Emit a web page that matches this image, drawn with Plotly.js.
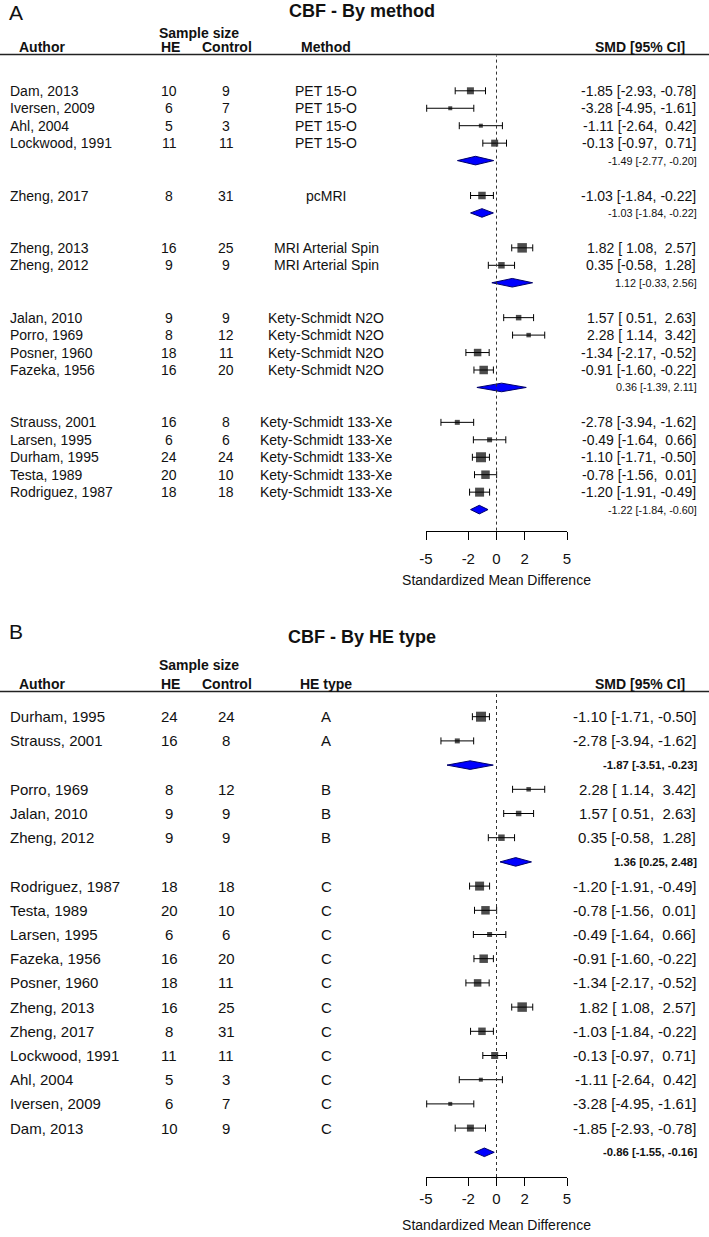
<!DOCTYPE html>
<html><head><meta charset="utf-8">
<script src="https://cdn.plot.ly/plotly-3.0.1.min.js"></script>
<style>html,body{margin:0;padding:0;background:#fff}#chart{width:709px;height:1237px}</style>
</head><body><div id="chart"></div>
<script>
// ---------------- DATA ----------------
const authors = ["Dam, 2013","Iversen, 2009","Ahl, 2004","Lockwood, 1991","Zheng, 2017","Zheng, 2013","Zheng, 2012","Jalan, 2010","Porro, 1969","Posner, 1960","Fazeka, 1956","Strauss, 2001","Larsen, 1995","Durham, 1995","Testa, 1989","Rodriguez, 1987"];
const heN   = [10, 6, 5, 11, 8, 16, 9, 9, 8, 18, 16, 16, 6, 24, 20, 18];
const ctrlN = [9, 7, 3, 11, 31, 25, 9, 9, 12, 11, 20, 8, 6, 24, 10, 18];
const method = ["PET 15-O","PET 15-O","PET 15-O","PET 15-O","pcMRI","MRI Arterial Spin","MRI Arterial Spin","Kety-Schmidt N2O","Kety-Schmidt N2O","Kety-Schmidt N2O","Kety-Schmidt N2O","Kety-Schmidt 133-Xe","Kety-Schmidt 133-Xe","Kety-Schmidt 133-Xe","Kety-Schmidt 133-Xe","Kety-Schmidt 133-Xe"];
const heType = ["C","C","C","C","C","C","B","B","B","C","C","A","C","A","C","C"];
const smd  = [-1.85, -3.28, -1.11, -0.13, -1.03, 1.82, 0.35, 1.57, 2.28, -1.34, -0.91, -2.78, -0.49, -1.10, -0.78, -1.20];
const ciLo = [-2.93, -4.95, -2.64, -0.97, -1.84, 1.08, -0.58, 0.51, 1.14, -2.17, -1.60, -3.94, -1.64, -1.71, -1.56, -1.91];
const ciHi = [-0.78, -1.61, 0.42, 0.71, -0.22, 2.57, 1.28, 2.63, 3.42, -0.52, -0.22, -1.62, 0.66, -0.50, 0.01, -0.49];

const methodGroups = ["PET 15-O","pcMRI","MRI Arterial Spin","Kety-Schmidt N2O","Kety-Schmidt 133-Xe"];
const methodEst = [-1.49, -1.03, 1.12, 0.36, -1.22];
const methodLo  = [-2.77, -1.84, -0.33, -1.39, -1.84];
const methodHi  = [-0.20, -0.22, 2.56, 2.11, -0.60];

const typeGroups = ["A","B","C"];
const typeEst = [-1.87, 1.36, -0.86];
const typeLo  = [-3.51, 0.25, -1.55];
const typeHi  = [-0.23, 2.48, -0.16];
const orderB = ["Durham, 1995","Strauss, 2001","Porro, 1969","Jalan, 2010","Zheng, 2012","Rodriguez, 1987","Testa, 1989","Larsen, 1995","Fazeka, 1956","Posner, 1960","Zheng, 2013","Zheng, 2017","Lockwood, 1991","Ahl, 2004","Iversen, 2009","Dam, 2013"];

const tickVals = [-5, -2, 0, 2, 5];
const tickText = ["-5", "-2", "0", "2", "5"];
const axisTitle = "Standardized Mean Difference";

// ---------------- STYLE / LAYOUT ----------------
const W = 709, H = 1237;
const FONT = "Liberation Sans, Arial, Helvetica, sans-serif";
const boxPx = {"Dam, 2013":7,"Iversen, 2009":4,"Ahl, 2004":4,"Lockwood, 1991":7,"Zheng, 2017":7.5,"Zheng, 2013":9.5,"Zheng, 2012":6.5,"Jalan, 2010":5.5,"Porro, 1969":4.5,"Posner, 1960":7.5,"Fazeka, 1956":8.5,"Strauss, 2001":5,"Larsen, 1995":5,"Durham, 1995":10,"Testa, 1989":8.5,"Rodriguez, 1987":9};
const X0 = 426, X5 = 567; // pixel positions of -5 and 5
const col = {author: 9, he: 169, ctrl: 226, grp: 326, smdR: 697, smdHeadR: 686, authorHead: 18, sample: 199, letter: 8, title: 362};

const NB = "\u00A0";
function pad5(v){ let s = v.toFixed(2); while (s.length < 5) s = NB + s; return s; }
function studyLabel(e,l,h){ return e.toFixed(2) + NB + "[" + pad5(l) + "," + NB + pad5(h) + "]"; }
function sumLabel(e,l,h){ return e.toFixed(2) + NB + "[" + l.toFixed(2) + "," + NB + h.toFixed(2) + "]"; }

const panels = [
  {letter:"A", title:"CBF - By method", grpHead:"Method", xa:"x", ya:"y", xk:"xaxis", yk:"yaxis",
   letterY:13, titleY:11, sampleY:33, headY:47, lineY:54.5, row0:90.8, rowH:17.45, axisY:530.6,
   txt:14, sumTxt:10.8, sumBold:false, dh:4.3, tickStand:6, titleStand:9,
   grpNames:methodGroups, grpEst:methodEst, grpLo:methodLo, grpHi:methodHi,
   members: g => authors.filter((a,i)=>method[i]===g), grpText: i => method[i], blank:true},
  {letter:"B", title:"CBF - By HE type", grpHead:"HE type", xa:"x2", ya:"y2", xk:"xaxis2", yk:"yaxis2",
   letterY:631.5, titleY:636.5, sampleY:665, headY:684, lineY:691.5, row0:716.7, rowH:24.2, axisY:1177,
   txt:15, sumTxt:11.3, sumBold:true, dh:4.3, tickStand:0, titleStand:14,
   grpNames:typeGroups, grpEst:typeEst, grpLo:typeLo, grpHi:typeHi,
   members: g => orderB.filter(a => heType[authors.indexOf(a)]===g), grpText: i => heType[i], blank:false}
];

const traces = [], annotations = [], shapes = [];
const layout = {width:W, height:H, margin:{l:0,r:0,t:0,b:0}, paper_bgcolor:"#fff", plot_bgcolor:"rgba(0,0,0,0)",
  showlegend:false, font:{family:FONT, color:"#111"}, annotations, shapes};

function py(p){ return 1 - p/H; }
function px(p){ return p/W; }
function txt(x, y, text, size, anchor, yref, bold){
  annotations.push({xref:"paper", yref:yref||"paper", x:x, y:y, text: bold ? "<b>"+text+"</b>" : text,
    showarrow:false, xanchor:anchor, yanchor:"middle", borderpad:0,
    font:{family:FONT, size:size, color:"#111"}});
}

panels.forEach(P => {
  let row = 0;
  const sx=[], sy=[], ss=[], ep=[], em=[];
  P.grpNames.forEach((g, gi) => {
    P.members(g).forEach(a => {
      const i = authors.indexOf(a);
      sx.push(smd[i]); sy.push(row); ss.push(boxPx[a]);
      ep.push(ciHi[i]-smd[i]); em.push(smd[i]-ciLo[i]);
      txt(px(col.author), row, a, P.txt, "left", P.ya);
      txt(px(col.he), row, String(heN[i]), P.txt, "center", P.ya);
      txt(px(col.ctrl), row, String(ctrlN[i]), P.txt, "center", P.ya);
      txt(px(col.grp), row, P.grpText(i), P.txt, "center", P.ya);
      txt(px(col.smdR), row, studyLabel(smd[i], ciLo[i], ciHi[i]), P.txt, "right", P.ya);
      row++;
    });
    const e = P.grpEst[gi], l = P.grpLo[gi], h = P.grpHi[gi];
    const d = P.dh / P.rowH;
    traces.push({type:"scatter", mode:"lines", xaxis:P.xa, yaxis:P.ya, hoverinfo:"skip",
      x:[l, e, h, e, l], y:[row, row-d, row, row+d, row], fill:"toself", fillcolor:"#0000FF",
      line:{color:"#00006A", width:1}, cliponaxis:false});
    txt(px(col.smdR)+0.002, row, sumLabel(e,l,h), P.sumTxt, "right", P.ya, P.sumBold);
    row++;
    if (P.blank) row++;
  });
  traces.unshift({type:"scatter", mode:"markers", xaxis:P.xa, yaxis:P.ya, x:sx, y:sy, hoverinfo:"skip",
    cliponaxis:false,
    marker:{symbol:"square", size:ss, color:"#000", line:{width:0}},
    error_x:{type:"data", symmetric:false, array:ep, arrayminus:em, color:"#000", thickness:1, width:3.5}});

  const top = (P.lineY - P.row0)/P.rowH, bot = (P.axisY - P.row0)/P.rowH;
  layout[P.yk] = {domain:[py(P.axisY), py(P.lineY)], range:[bot, top], visible:false, fixedrange:true};
  layout[P.xk] = {domain:[px(X0), px(X5)], range:[-5,5], anchor:P.ya, showgrid:false, zeroline:false,
    showline:true, linecolor:"#000", linewidth:1, ticks:"outside", ticklen:8, tickwidth:1, tickcolor:"#000",
    tickvals:tickVals, ticktext:tickText, ticklabelstandoff:P.tickStand, fixedrange:true,
    tickfont:{family:FONT, size:15, color:"#111"},
    title:{text:axisTitle, standoff:P.titleStand, font:{family:FONT, size:14, color:"#111"}}};

  shapes.push({type:"line", xref:P.xa, yref:"paper", x0:0, x1:0, y0:py(P.axisY), y1:py(P.lineY+1),
    line:{color:"#333", width:1, dash:"dot"}});
  shapes.push({type:"line", xref:"paper", yref:"paper", x0:0, x1:1, y0:py(P.lineY), y1:py(P.lineY),
    line:{color:"#222", width:1.5}});

  txt(px(col.letter), py(P.letterY), P.letter, 21, "left");
  txt(px(col.title), py(P.titleY), P.title, 18, "center", "paper", true);
  txt(px(col.sample), py(P.sampleY), "Sample size", 14, "center", "paper", true);
  txt(px(col.authorHead), py(P.headY), "Author", 14, "left", "paper", true);
  txt(px(col.he+1), py(P.headY), "HE", 14, "center", "paper", true);
  txt(px(col.ctrl+1), py(P.headY), "Control", 14, "center", "paper", true);
  txt(px(col.grp), py(P.headY), P.grpHead, 14, "center", "paper", true);
  txt(px(col.smdHeadR), py(P.headY), "SMD [95% CI]", 14, "right", "paper", true);
});

Plotly.newPlot("chart", traces, layout, {staticPlot:true, displayModeBar:false});
</script>
</body></html>
